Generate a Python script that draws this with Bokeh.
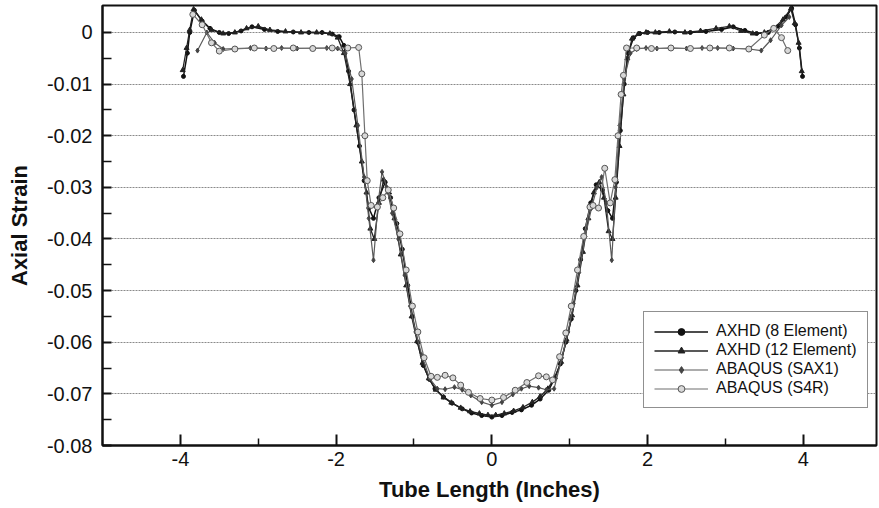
from bokeh.plotting import figure
from bokeh.models import Range1d, FixedTicker, Legend, LegendItem
from bokeh.embed import file_html
from bokeh.resources import INLINE

# ---------------- data ----------------
x_ticks = [-4, -2, 0, 2, 4]
x_tick_labels = ["-4", "-2", "0", "2", "4"]
x_minor = [-3, -1, 1, 3]
y_ticks = [0, -0.01, -0.02, -0.03, -0.04, -0.05, -0.06, -0.07, -0.08]
y_tick_labels = ["0", "-0.01", "-0.02", "-0.03", "-0.04", "-0.05", "-0.06", "-0.07", "-0.08"]
y_minor = [-0.005, -0.015, -0.025, -0.035, -0.045, -0.055, -0.065, -0.075]

axhd8_x = [-3.96, -3.91, -3.88, -3.82, -3.72, -3.62, -3.50, -3.38, -3.22, -3.08, -2.92, -2.75,
           -2.55, -2.35, -2.18, -2.05, -1.96, -1.90, -1.84, -1.77, -1.70, -1.64, -1.58, -1.52,
           -1.45, -1.37, -1.30, -1.22, -1.15, -1.08, -1.02, -0.95, -0.88, -0.80, -0.73, -0.62,
           -0.51, -0.38, -0.26, -0.13, 0.00, 0.13, 0.26, 0.38, 0.51, 0.62, 0.73, 0.80, 0.88,
           0.95, 1.02, 1.08, 1.14, 1.20, 1.27, 1.34, 1.42, 1.49, 1.55, 1.60, 1.65, 1.70, 1.75,
           1.82, 1.90, 2.00, 2.15, 2.35, 2.55, 2.75, 2.95, 3.10, 3.25, 3.40, 3.55, 3.68, 3.78,
           3.85, 3.90, 3.95, 3.99]
axhd8_y = [-0.0085, -0.0040, 0.0000, 0.0043, 0.0022, 0.0008, 0.0000, -0.0002, 0.0003, 0.0011,
           0.0006, 0.0002, 0.0001, 0.0000, 0.0000, -0.0003, -0.0008, -0.0025, -0.0075, -0.0150,
           -0.0220, -0.0287, -0.0340, -0.0360, -0.0320, -0.0290, -0.0320, -0.0370, -0.0420,
           -0.0490, -0.0550, -0.0600, -0.0645, -0.0672, -0.0690, -0.0706, -0.0718, -0.0729,
           -0.0737, -0.0742, -0.0745, -0.0742, -0.0736, -0.0731, -0.0722, -0.0710, -0.0693,
           -0.0672, -0.0642, -0.0600, -0.0555, -0.0500, -0.0440, -0.0380, -0.0330, -0.0295,
           -0.0305, -0.0345, -0.0360, -0.0290, -0.0190, -0.0100, -0.0040, -0.0010, -0.0002,
           0.0000, 0.0000, 0.0001, 0.0000, 0.0002, 0.0006, 0.0011, 0.0004, -0.0002, 0.0000,
           0.0012, 0.0030, 0.0047, 0.0015, -0.0030, -0.0085]

axhd12_x = [-3.97, -3.92, -3.88, -3.83, -3.73, -3.60, -3.45, -3.30, -3.15, -3.00, -2.85, -2.65,
            -2.45, -2.25, -2.08, -1.98, -1.90, -1.82, -1.74, -1.67, -1.61, -1.56, -1.51, -1.45,
            -1.39, -1.32, -1.25, -1.17, -1.10, -1.03, -0.96, -0.89, -0.81, -0.72, -0.62, -0.52,
            -0.40, -0.28, -0.16, -0.05, 0.05, 0.16, 0.28, 0.40, 0.52, 0.62, 0.72, 0.81, 0.89,
            0.96, 1.03, 1.10, 1.17, 1.24, 1.31, 1.38, 1.44, 1.50, 1.55, 1.59, 1.64, 1.69, 1.74,
            1.80, 1.88, 1.98, 2.10, 2.28, 2.48, 2.68, 2.88, 3.05, 3.20, 3.35, 3.50, 3.62, 3.74,
            3.84, 3.89, 3.94, 3.98]
axhd12_y = [-0.0073, -0.0030, 0.0005, 0.0045, 0.0025, 0.0005, -0.0002, 0.0000, 0.0008, 0.0012,
            0.0005, 0.0002, 0.0000, 0.0000, -0.0002, -0.0010, -0.0040, -0.0100, -0.0180,
            -0.0250, -0.0310, -0.0380, -0.0400, -0.0330, -0.0285, -0.0310, -0.0360, -0.0430,
            -0.0490, -0.0550, -0.0598, -0.0640, -0.0670, -0.0692, -0.0707, -0.0717, -0.0727,
            -0.0734, -0.0738, -0.0741, -0.0741, -0.0738, -0.0733, -0.0726, -0.0716, -0.0705,
            -0.0690, -0.0668, -0.0638, -0.0595, -0.0548, -0.0490, -0.0425, -0.0360, -0.0310,
            -0.0290, -0.0320, -0.0385, -0.0400, -0.0320, -0.0220, -0.0120, -0.0050, -0.0012,
            -0.0003, 0.0000, 0.0000, 0.0002, 0.0000, 0.0003, 0.0008, 0.0012, 0.0003, -0.0002,
            0.0000, 0.0008, 0.0025, 0.0046, 0.0018, -0.0020, -0.0075]

sax1_x = [-3.78, -3.66, -3.56, -3.45, -3.30, -3.10, -2.90, -2.70, -2.50, -2.30, -2.12, -1.98,
          -1.88, -1.80, -1.72, -1.64, -1.58, -1.52, -1.46, -1.41, -1.35, -1.28, -1.20, -1.12,
          -1.05, -0.98, -0.90, -0.80, -0.70, -0.60, -0.48, -0.38, -0.27, -0.13, 0.00, 0.13,
          0.27, 0.38, 0.48, 0.60, 0.70, 0.80, 0.90, 0.98, 1.05, 1.12, 1.20, 1.28, 1.35, 1.41,
          1.47, 1.54, 1.59, 1.64, 1.70, 1.78, 1.86, 1.98, 2.12, 2.30, 2.50, 2.70, 2.90, 3.10,
          3.30, 3.46, 3.58, 3.72, 3.82]
sax1_y = [-0.0035, 0.0000, -0.0020, -0.0032, -0.0031, -0.0030, -0.0031, -0.0030, -0.0031,
          -0.0030, -0.0030, -0.0031, -0.0040, -0.0090, -0.0180, -0.0280, -0.0360, -0.0441,
          -0.0330, -0.0270, -0.0300, -0.0350, -0.0400, -0.0470, -0.0530, -0.0580, -0.0625,
          -0.0670, -0.0690, -0.0691, -0.0687, -0.0692, -0.0703, -0.0716, -0.0722, -0.0716,
          -0.0701, -0.0690, -0.0685, -0.0688, -0.0692, -0.0690, -0.0630, -0.0580, -0.0525,
          -0.0465, -0.0395, -0.0340, -0.0300, -0.0280, -0.0330, -0.0441, -0.0300, -0.0180,
          -0.0090, -0.0040, -0.0032, -0.0030, -0.0031, -0.0030, -0.0031, -0.0030, -0.0030,
          -0.0031, -0.0032, -0.0035, -0.0015, 0.0014, 0.0030]

s4r_x = [-3.84, -3.72, -3.60, -3.50, -3.30, -3.05, -2.80, -2.55, -2.30, -2.05, -1.85, -1.71,
         -1.67, -1.63, -1.60, -1.55, -1.47, -1.40, -1.33, -1.26, -1.18, -1.10, -1.02, -0.95,
         -0.87, -0.78, -0.70, -0.60, -0.50, -0.40, -0.30, -0.15, 0.00, 0.15, 0.30, 0.45, 0.60,
         0.70, 0.78, 0.87, 0.95, 1.02, 1.10, 1.18, 1.26, 1.30, 1.37, 1.45, 1.52, 1.58, 1.62,
         1.66, 1.69, 1.73, 1.86, 2.05, 2.30, 2.55, 2.80, 3.05, 3.30, 3.50, 3.62, 3.72, 3.80]
s4r_y = [0.0035, 0.0015, -0.0020, -0.0036, -0.0032, -0.0030, -0.0031, -0.0030, -0.0031,
         -0.0030, -0.0030, -0.0029, -0.0080, -0.0200, -0.0287, -0.0335, -0.0338, -0.0320,
         -0.0305, -0.0340, -0.0390, -0.0460, -0.0530, -0.0580, -0.0630, -0.0666, -0.0668,
         -0.0664, -0.0669, -0.0683, -0.0697, -0.0709, -0.0712, -0.0707, -0.0693, -0.0678,
         -0.0665, -0.0667, -0.0673, -0.0628, -0.0582, -0.0530, -0.0460, -0.0395, -0.0338,
         -0.0335, -0.0340, -0.0263, -0.0330, -0.0285, -0.0200, -0.0120, -0.0083, -0.0030,
         -0.0030, -0.0031, -0.0030, -0.0031, -0.0030, -0.0030, -0.0032, -0.0005, 0.0008,
         -0.0010, -0.0035]

series_names = ["AXHD (8 Element)", "AXHD (12 Element)", "ABAQUS (SAX1)", "ABAQUS (S4R)"]

# ---------------- figure ----------------
FONT = "Liberation Sans"

p = figure(width=878, height=506, output_backend="svg", toolbar_location=None,
           x_range=Range1d(-5, 4.94), y_range=Range1d(-0.08, 0.00523),
           min_border_left=102, min_border_right=2, min_border_top=5, min_border_bottom=61)
p.background_fill_color = "white"
p.border_fill_color = "white"
p.outline_line_color = "#111111"
p.outline_line_width = 2

# grid
p.xgrid.visible = False
p.ygrid.grid_line_color = "#8a8a8a"
p.ygrid.grid_line_dash = "2 1"
p.ygrid.grid_line_width = 1

# axes
for ax in (p.xaxis[0], p.yaxis[0]):
    ax.axis_line_color = "#111111"
    ax.axis_line_width = 2
    ax.major_tick_line_color = "#111111"
    ax.minor_tick_line_color = "#111111"
    ax.major_tick_line_width = 2
    ax.minor_tick_line_width = 1.5
    ax.major_tick_out = 0
    ax.minor_tick_out = 0
    ax.major_label_text_font = FONT
    ax.major_label_text_font_size = "20px"
    ax.major_label_text_color = "#111111"
    ax.axis_label_text_font = FONT
    ax.axis_label_text_font_size = "22px"
    ax.axis_label_text_font_style = "bold"
    ax.axis_label_text_color = "#111111"

p.xaxis.ticker = FixedTicker(ticks=x_ticks, minor_ticks=x_minor)
p.xaxis.major_label_overrides = {t: lab for t, lab in zip(x_ticks, x_tick_labels)}
p.xaxis.major_tick_in = 11
p.xaxis.minor_tick_in = 7
p.xaxis.major_label_standoff = 6
p.xaxis.axis_label = "Tube Length (Inches)"
p.xaxis.axis_label_standoff = 8

p.yaxis.ticker = FixedTicker(ticks=y_ticks, minor_ticks=y_minor)
p.yaxis.major_label_overrides = {t: lab for t, lab in zip(y_ticks, y_tick_labels)}
p.yaxis.major_tick_in = 9
p.yaxis.minor_tick_in = 9
p.yaxis.major_label_standoff = 10
p.yaxis.axis_label = "Axial Strain"
p.yaxis.axis_label_standoff = 12

# series
l1 = p.line(axhd8_x, axhd8_y, line_color="#111111", line_width=1.5)
m1 = p.scatter(axhd8_x, axhd8_y, marker="circle", size=4, fill_color="#111111", line_color="#111111")

l2 = p.line(axhd12_x, axhd12_y, line_color="#222222", line_width=1.3)
m2 = p.scatter(axhd12_x, axhd12_y, marker="triangle", size=5, fill_color="#222222", line_color="#222222")

l3 = p.line(sax1_x, sax1_y, line_color="#5a5a5a", line_width=1.2)
m3 = p.scatter(sax1_x, sax1_y, marker="diamond", size=5, fill_color="#444444", line_color="#444444")

l4 = p.line(s4r_x, s4r_y, line_color="#6e6e6e", line_width=1.2)
m4 = p.scatter(s4r_x, s4r_y, marker="circle", size=6, fill_color="#d8d8d8", line_color="#555555", line_width=1)

legend = Legend(items=[
    LegendItem(label=series_names[0], renderers=[l1, m1]),
    LegendItem(label=series_names[1], renderers=[l2, m2]),
    LegendItem(label=series_names[2], renderers=[l3, m3]),
    LegendItem(label=series_names[3], renderers=[l4, m4]),
], location=(541, 37))
legend.border_line_color = "#222222"
legend.border_line_width = 1.5
legend.background_fill_color = "white"
legend.background_fill_alpha = 1
legend.label_text_font = FONT
legend.label_text_font_size = "16px"
legend.label_text_color = "#111111"
legend.glyph_width = 54
legend.glyph_height = 17
legend.label_height = 17
legend.label_standoff = 8
legend.spacing = 1
legend.padding = 10
legend.margin = 0
p.add_layout(legend)

open("out.html", "w").write(file_html(p, INLINE))
